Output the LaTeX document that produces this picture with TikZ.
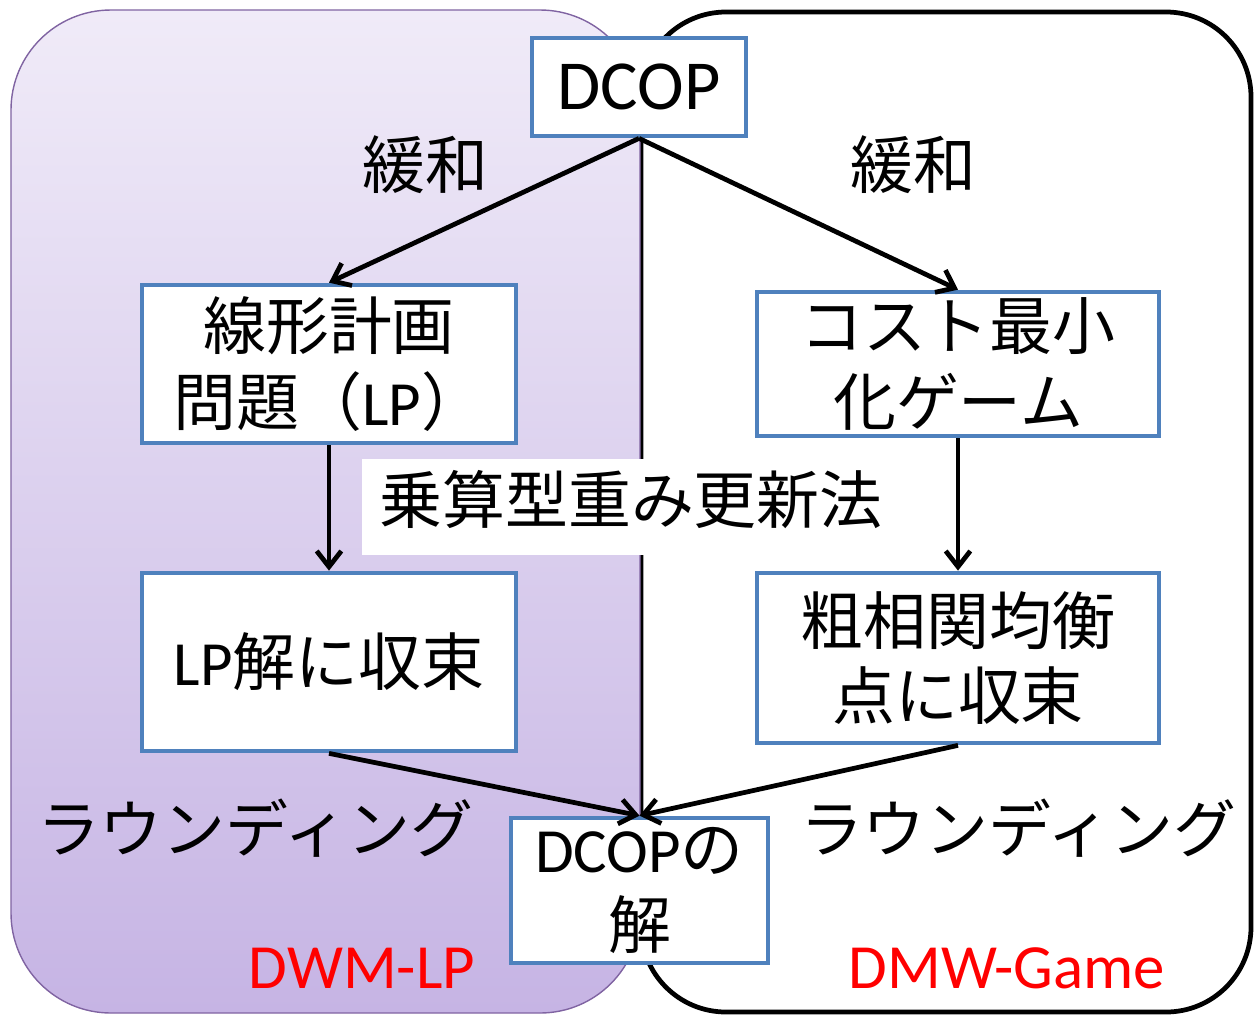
\documentclass[tikz,border=0pt]{standalone}
\usepackage{fontspec}
\setmainfont{Carlito}
\newfontfamily\jp{Noto Sans CJK JP}
\usetikzlibrary{arrows.meta}
\definecolor{boxblue}{HTML}{4F81BD}
\definecolor{lavtop}{HTML}{F0EBF8}
\definecolor{lavbot}{HTML}{C6B4E4}
\definecolor{lavedge}{HTML}{8064A2}
\tikzset{
  stepbox/.style={draw=boxblue, line width=2.7pt, fill=white, align=center, inner sep=0pt,
    font=\jp\fontsize{35.8}{43}\selectfont},
  jplabel/.style={font=\jp\fontsize{35.8}{43}\selectfont, inner sep=0pt},
  redlabel/.style={font=\fontsize{35.8}{43}\selectfont, text=red, inner sep=0pt},
  flow/.style={line width=2.7pt, -{Straight Barb[length=9pt,width=14pt,line width=2.7pt]}}
}
\begin{document}
\begin{tikzpicture}[x=0.02cm,y=-0.02cm]
\useasboundingbox (0,0) rectangle (1254,1015);
% outer regions
\draw[line width=2.7pt, fill=white, rounded corners=1.7cm] (641,12) rectangle (1251,1012);
\draw[draw=lavedge, line width=0.8pt, top color=lavtop, bottom color=lavbot, rounded corners=2cm] (11,10) rectangle (640,1013);
% nodes
\node[stepbox, minimum width=4.28cm, minimum height=1.96cm, font=\fontsize{40}{48}\selectfont] (dcop) at (639,87) {DCOP};
\node[stepbox, minimum width=7.48cm, minimum height=3.16cm] (lp) at (329,364) {線形計画\\問題（{\rmfamily LP}）};
\node[stepbox, minimum width=8.04cm, minimum height=2.88cm] (game) at (958,364) {コスト最小\\化ゲーム};
\node[stepbox, minimum width=7.48cm, minimum height=3.56cm] (lpsol) at (329,662) {{\rmfamily LP}解に収束};
\node[stepbox, minimum width=8.04cm, minimum height=3.40cm] (cce) at (958,658) {粗相関均衡\\点に収束};
\node[stepbox, minimum width=5.14cm, minimum height=2.90cm] (sol) at (639.5,890.5) {{\rmfamily DCOP}の\\解};
% labels
\node[jplabel] (relaxL) at (425,165) {緩和};
\node[jplabel] (relaxR) at (913,165) {緩和};
\node[jplabel, fill=white, minimum width=10.78cm, minimum height=1.92cm, text depth=0.39cm] (mwu) at (631,507) {乗算型重み更新法};
\node[jplabel] (roundL) at (255,828) {ラウンディング};
\node[jplabel] (roundR) at (1018,828) {ラウンディング};
\node[redlabel] (dwmlp) at (362,968) {DWM-LP};
\node[redlabel] (dmwgame) at (1007,968) {DMW-Game};
% connectors
\draw[flow] (dcop.south) -- (lp.north);
\draw[flow] (dcop.south) -- (game.north);
\draw[flow] (lp.south) -- (lpsol.north);
\draw[flow] (game.south) -- (cce.north);
\draw[flow] (lpsol.south) -- (sol.north);
\draw[flow] (cce.south) -- (sol.north);
\end{tikzpicture}
\end{document}
